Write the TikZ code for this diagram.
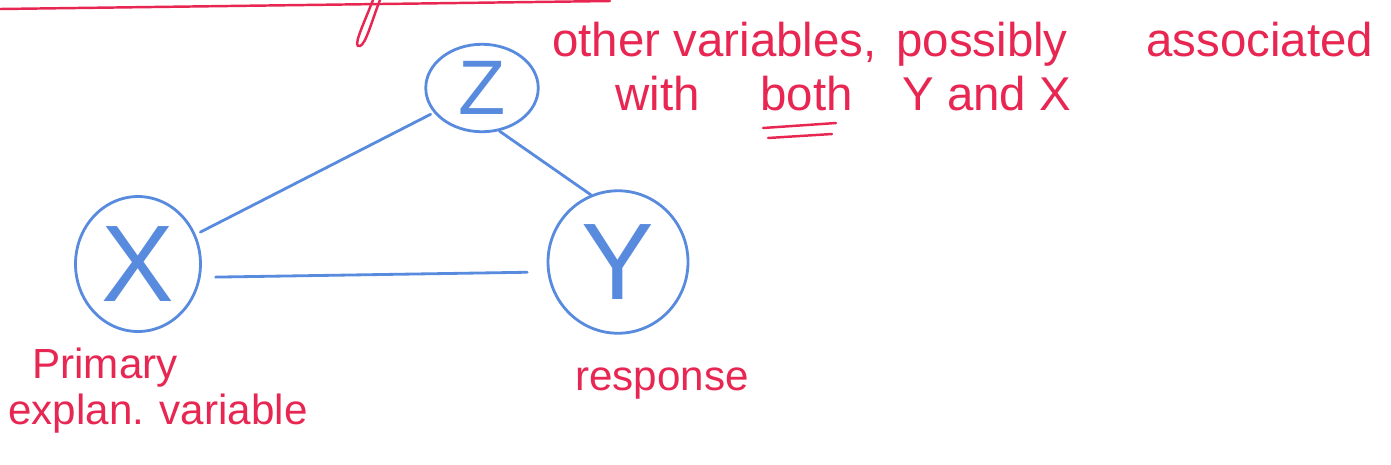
\documentclass[tikz,border=0pt]{standalone}
\usepackage{fontspec}
\setmainfont{Liberation Sans}
\usetikzlibrary{shapes.geometric}
\definecolor{penred}{RGB}{232,38,82}
\definecolor{penblue}{RGB}{88,138,222}
\begin{document}
\begin{tikzpicture}[x=0.02cm,y=-0.02cm,
  redtxt/.style={text=penred,inner sep=0pt,anchor=base west,font=\fontsize{24}{28}\selectfont},
  toptxt/.style={redtxt,font=\fontsize{27}{30}\selectfont},
  redpen/.style={draw=penred,line width=1.4pt,line cap=round},
  bluepen/.style={draw=penblue,line width=1.6pt,line cap=round},
  var/.style={ellipse,draw=penblue,line width=1.6pt,text=penblue,inner sep=0pt}]
\useasboundingbox (0,0) rectangle (1391,464);
% top fragments
\draw[redpen] (0,9) -- (610,1);
\draw[redpen] (373,0) .. controls (362,28) and (352,48) .. (360,46) .. controls (366,44) and (372,20) .. (380,0);
% variables
\node[var,minimum width=2.25cm,minimum height=1.75cm,font=\fontsize{44}{44}\selectfont] (Z) at (482,88) {Z};
\node[var,minimum width=2.5cm,minimum height=2.7cm,font=\fontsize{62}{62}\selectfont] (X) at (138,264) {X};
\node[var,minimum width=2.8cm,minimum height=2.85cm,font=\fontsize{62}{62}\selectfont] (Y) at (618,262) {Y};
% connectors
\draw[bluepen,shorten <=3pt,shorten >=2pt] (X) -- (Z);
\draw[bluepen] (Z.-68) -- (Y.112);
\draw[bluepen,shorten <=0.3cm,shorten >=0.4cm] (X.-12) -- (Y.188);
% labels
\node[toptxt] (o1) at (552,56) {other variables,};
\node[toptxt] (o2) at (896,56) {possibly};
\node[toptxt] (o3) at (1146,56) {associated};
\node[toptxt] (w1) at (615,110) {with};
\node[toptxt] (both) at (760,110) {both};
\node[toptxt] (w3) at (902,110) {Y and X};
\draw[redpen] (763,128) -- (836,123);
\draw[redpen] (768,138) -- (832,134);
\node[redtxt] (p1) at (32,378) {Primary};
\node[redtxt] (p2) at (8,424) {explan. variable};
\node[redtxt] (r1) at (575,390) {response};
\end{tikzpicture}
\end{document}
